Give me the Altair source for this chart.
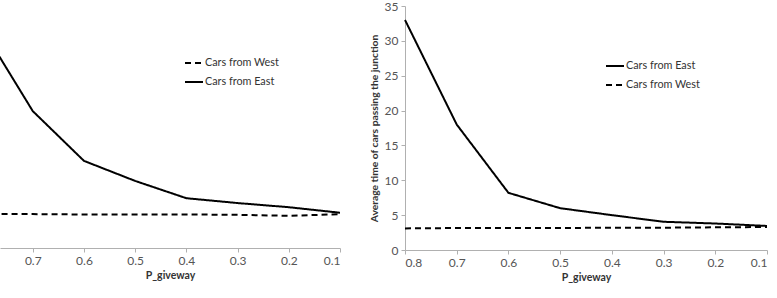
import altair as alt
import pandas as pd

# Probability of giving way (x axis, read right-to-left)
p_giveway = [0.8, 0.7, 0.6, 0.5, 0.4, 0.3, 0.2, 0.1]

# Left panel: average passing time
left_east = [31.9, 19.8, 12.6, 9.7, 7.2, 6.5, 5.9, 5.1]
left_west = [4.9, 4.9, 4.85, 4.85, 4.85, 4.8, 4.65, 4.9]

# Right panel: average passing time
right_east = [33.0, 18.0, 8.2, 6.0, 5.0, 4.05, 3.8, 3.45]
right_west = [3.1, 3.15, 3.15, 3.15, 3.2, 3.2, 3.25, 3.3]

EAST = "Cars from East"
WEST = "Cars from West"

FONT = "Lato"
AXIS_GREY = "#b0b0b0"
LABEL_GREY = "#555555"


def frame(east, west):
    rows = []
    for p, e, w in zip(p_giveway, east, west):
        rows.append({"p": p, "time": e, "series": EAST})
        rows.append({"p": p, "time": w, "series": WEST})
    return pd.DataFrame(rows)


def x_axis(values):
    return alt.Axis(
        values=values, format=".1f", title="P_giveway", grid=False,
        domainColor=AXIS_GREY, tickColor=AXIS_GREY, tickSize=4,
        labelColor=LABEL_GREY, labelFont=FONT, labelFontSize=12, labelPadding=3,
        titleFont=FONT, titleFontSize=10.5, titleFontWeight="bold",
        titleColor="#333333", titlePadding=4,
    )


def legend(x, y):
    return alt.Legend(
        title=None, orient="none", legendX=x, legendY=y,
        symbolType="stroke", symbolSize=324, symbolStrokeWidth=2,
        symbolStrokeColor="black", labelFont=FONT, labelFontSize=10.8,
        labelColor="#333333", labelOffset=1, rowPadding=4,
    )


# Left panel: the x scale starts a little right of 0.8, so its left end is clipped
left = alt.Chart(frame(left_east, left_west)).mark_line(
    color="black", strokeWidth=2, clip=True
).encode(
    x=alt.X("p:Q", scale=alt.Scale(domain=[0.1, 0.764], reverse=True, nice=False, zero=False),
            axis=x_axis([0.7, 0.6, 0.5, 0.4, 0.3, 0.2, 0.1])),
    y=alt.Y("time:Q", scale=alt.Scale(domain=[0, 35]), axis=None),
    strokeDash=alt.StrokeDash(
        "series:N",
        scale=alt.Scale(domain=[WEST, EAST], range=[[6, 4], [1, 0]]),
        legend=legend(184, 47),
    ),
).properties(width=340, height=242)

# Right panel
right = alt.Chart(frame(right_east, right_west)).mark_line(
    color="black", strokeWidth=2
).encode(
    x=alt.X("p:Q", scale=alt.Scale(domain=[0.1, 0.8], reverse=True, nice=False, zero=False),
            axis=x_axis(p_giveway)),
    y=alt.Y("time:Q", scale=alt.Scale(domain=[0, 35], nice=False),
            axis=alt.Axis(
                values=[0, 5, 10, 15, 20, 25, 30, 35], grid=False,
                title="Average time of cars passing the junction",
                domainColor=AXIS_GREY, tickColor=AXIS_GREY, tickSize=4,
                labelColor=LABEL_GREY, labelFont=FONT, labelFontSize=12, labelPadding=3,
                titleFont=FONT, titleFontSize=10.3, titleFontWeight="bold",
                titleColor="#333333", titlePadding=5,
            )),
    strokeDash=alt.StrokeDash(
        "series:N",
        scale=alt.Scale(domain=[EAST, WEST], range=[[1, 0], [6, 4]]),
        legend=legend(200, 50),
    ),
).properties(width=362, height=244)

chart = alt.hconcat(left, right, spacing=28).resolve_scale(
    strokeDash="independent", x="independent", y="independent"
).resolve_legend(strokeDash="independent").properties(
    padding={"left": 0, "top": 0, "right": 0, "bottom": 10},
    background="white",
).configure_view(stroke=None)

chart.save("out.html", embed_options={"renderer": "svg", "actions": False})
